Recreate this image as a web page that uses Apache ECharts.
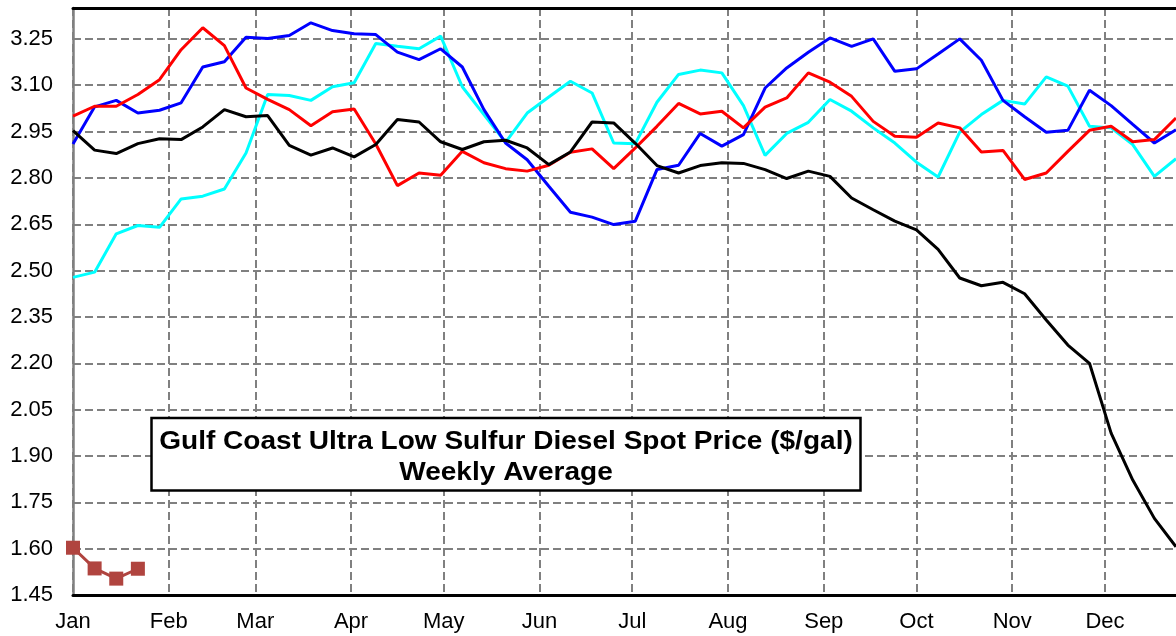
<!DOCTYPE html>
<html>
<head>
<meta charset="utf-8">
<script src="https://cdn.jsdelivr.net/npm/echarts@6/dist/echarts.min.js"></script>
<style>
html,body{margin:0;padding:0;background:#fff;}
#chart{width:1176px;height:636px;}
</style>
</head>
<body>
<div id="chart"></div>
<script>
// Month starts (day of year) and labels
const monthStartDays = [0, 31, 59, 90, 120, 151, 181, 212, 243, 273, 304, 334];
const monthLabels = ['Jan','Feb','Mar','Apr','May','Jun','Jul','Aug','Sep','Oct','Nov','Dec'];
// Y tick labels
const yTicks = [1.45, 1.60, 1.75, 1.90, 2.05, 2.20, 2.35, 2.50, 2.65, 2.80, 2.95, 3.10, 3.25];

// Weekly averages ($/gal), one value per week starting Jan 1
const cyanSeries = [2.478,2.495,2.619,2.646,2.640,2.732,2.741,2.764,2.881,3.070,3.067,3.051,3.095,3.108,3.235,3.226,3.218,3.259,3.095,3.005,2.915,3.010,3.062,3.113,3.075,2.913,2.911,3.045,3.135,3.149,3.140,3.034,2.873,2.944,2.980,3.054,3.016,2.962,2.913,2.851,2.803,2.948,3.005,3.051,3.039,3.127,3.097,2.967,2.962,2.908,2.805,2.862];
const blueSeries = [2.910,3.030,3.051,3.010,3.019,3.043,3.159,3.176,3.255,3.251,3.261,3.302,3.277,3.267,3.264,3.207,3.183,3.218,3.159,3.021,2.913,2.859,2.773,2.689,2.673,2.649,2.660,2.827,2.841,2.944,2.903,2.940,3.091,3.156,3.207,3.253,3.226,3.250,3.145,3.153,3.201,3.250,3.181,3.051,2.998,2.948,2.954,3.084,3.034,2.973,2.913,2.956];
const redSeries = [3.000,3.032,3.032,3.070,3.118,3.215,3.286,3.228,3.091,3.054,3.021,2.969,3.014,3.023,2.910,2.775,2.816,2.809,2.886,2.849,2.830,2.822,2.841,2.883,2.894,2.830,2.897,2.967,3.041,3.007,3.016,2.962,3.029,3.059,3.140,3.110,3.064,2.983,2.935,2.932,2.978,2.962,2.884,2.889,2.795,2.816,2.886,2.954,2.967,2.917,2.924,2.994];
const blackSeries = [2.953,2.890,2.879,2.911,2.927,2.924,2.965,3.021,2.998,3.002,2.905,2.874,2.897,2.868,2.908,2.989,2.981,2.917,2.892,2.917,2.922,2.897,2.843,2.884,2.981,2.978,2.912,2.840,2.816,2.840,2.849,2.847,2.827,2.798,2.822,2.805,2.735,2.697,2.660,2.632,2.569,2.476,2.451,2.462,2.425,2.340,2.259,2.200,1.974,1.822,1.698,1.606];
const brownSeries = [1.603,1.536,1.503,1.535];

const titleLines = ['Gulf Coast Ultra Low Sulfur Diesel Spot Price ($/gal)', 'Weekly Average'];

function weekly(arr){ return arr.map((v,i)=>[i*7, v]); }

const font = "'Liberation Sans', Arial, sans-serif";
const chart = echarts.init(document.getElementById('chart'), null, {renderer:'canvas'});
const gridDash = {color:'#808080', width:2, type:[8,4]};

chart.setOption({
  animation:false,
  backgroundColor:'#fff',
  grid:{left:73, right:0, top:8, bottom:41, containLabel:false},
  xAxis:[{
    type:'value', min:0, max:357,
    axisLine:{show:true, onZero:false, lineStyle:{color:'#000', width:3}},
    axisTick:{show:false, customValues:monthStartDays},
    axisLabel:{customValues:monthStartDays, margin:16, fontSize:22, fontFamily:font, color:'#000',
      formatter:function(v){ const k = monthStartDays.indexOf(Math.round(v)); return k>=0?monthLabels[k]:''; }},
    splitLine:{show:true, lineStyle:gridDash}
  },{
    type:'value', min:0, max:357, position:'top',
    axisLine:{show:true, onZero:false, lineStyle:{color:'#000', width:3}},
    axisTick:{show:false}, axisLabel:{show:false}, splitLine:{show:false}
  }],
  yAxis:{
    type:'value', min:1.45, max:3.35,
    axisLine:{show:true, lineStyle:{color:'#808080', width:2.5}},
    axisTick:{show:false, customValues:yTicks},
    axisLabel:{customValues:yTicks, margin:20, fontSize:22, fontFamily:font, color:'#000',
      formatter:function(v){ return v.toFixed(2); }},
    splitLine:{show:true, lineStyle:gridDash}
  },
  series:[
    {type:'line', data:weekly(cyanSeries), showSymbol:false, lineStyle:{color:'#00ffff', width:3}, itemStyle:{color:'#00ffff'}},
    {type:'line', data:weekly(blueSeries), showSymbol:false, lineStyle:{color:'#0000ff', width:3}, itemStyle:{color:'#0000ff'}},
    {type:'line', data:weekly(redSeries), showSymbol:false, lineStyle:{color:'#ff0000', width:3}, itemStyle:{color:'#ff0000'}},
    {type:'line', data:weekly(blackSeries), showSymbol:false, lineStyle:{color:'#000000', width:3}, itemStyle:{color:'#000000'}},
    {type:'line', data:weekly(brownSeries), symbol:'rect', symbolSize:14, lineStyle:{color:'#b0443f', width:3}, itemStyle:{color:'#b0443f'}}
  ],
  graphic:[
    {type:'rect', z:100, zlevel:1, shape:{x:151.5,y:418,width:709,height:72.5}, style:{fill:'#ffffff', stroke:'#000', lineWidth:2.5}},
    {type:'text', z:101, zlevel:1, x:506, y:442, scaleX:1.1, style:{text:titleLines[0], fill:'#000', font:"bold 25.5px "+font, textAlign:'center', textVerticalAlign:'middle'}},
    {type:'text', z:101, zlevel:1, x:506, y:473, scaleX:1.1, style:{text:titleLines[1], fill:'#000', font:"bold 25.5px "+font, textAlign:'center', textVerticalAlign:'middle'}}
  ]
});
</script>
</body>
</html>
